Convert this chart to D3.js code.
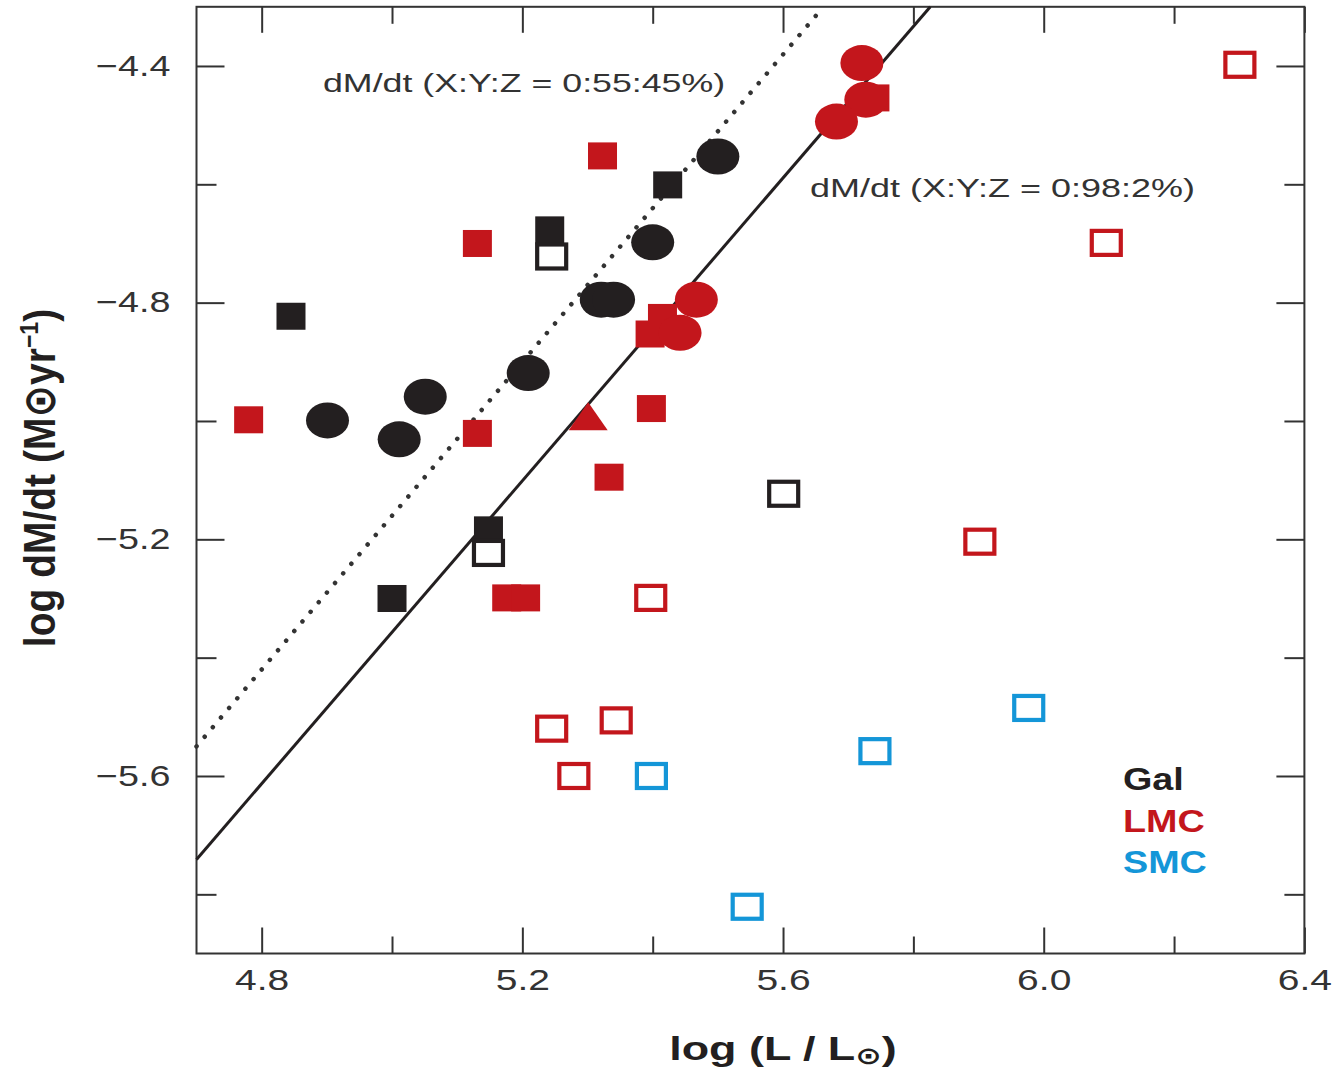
<!DOCTYPE html>
<html>
<head>
<meta charset="utf-8">
<script src="https://cdn.jsdelivr.net/npm/d3@7"></script>
<style>
  body { margin: 0; background: #fff; }
  text { font-family: "Liberation Sans", Arial, Helvetica, sans-serif; }
</style>
</head>
<body>
<svg id="chart" width="1337" height="1073"></svg>
<script>
// values: [log L/Lsun, log dM/dt]
var galCircles = [[5.500, -4.553], [5.400, -4.698], [5.321, -4.795], [5.340, -4.795],
  [5.209, -4.919], [5.051, -4.959], [4.901, -4.999], [5.011, -5.031]];
var galSquares = [[5.423, -4.601], [5.242, -4.677], [4.845, -4.823], [5.148, -5.184], [5.000, -5.300]];
var galOpen = [[5.245, -4.722], [5.148, -5.223], [5.601, -5.123]];

var lmcCircles = [[5.721, -4.395], [5.727, -4.457], [5.682, -4.494], [5.467, -4.795], [5.442, -4.851]];
var lmcSquares = [[5.741, -4.454], [5.323, -4.552], [5.131, -4.700], [5.415, -4.825], [5.396, -4.853],
  [5.398, -4.979], [4.780, -4.998], [5.131, -5.021], [5.333, -5.095], [5.176, -5.299], [5.205, -5.299]];
var lmcTriangles = [[5.301, -4.992]];
var lmcOpen = [[6.301, -4.398], [6.096, -4.699], [5.902, -5.204], [5.397, -5.299],
  [5.245, -5.520], [5.344, -5.506], [5.279, -5.600]];

var smcOpen = [[5.398, -5.600], [5.741, -5.558], [5.977, -5.485], [5.545, -5.821]];

// mass-loss relations (end points in data units)
var solidLine = [[4.7, -5.741], [5.826, -4.3]];
var dottedLine = [[4.7, -5.55], [5.662, -4.3]];

var xMajor = [4.8, 5.2, 5.6, 6.0, 6.4];
var xMinor = [5.0, 5.4, 5.8, 6.2];
var yMajor = [-4.4, -4.8, -5.2, -5.6];
var yMinor = [-4.6, -5.0, -5.4, -5.8];

var legendLabels = ["Gal", "LMC", "SMC"];

var BLACK = "#231f20", RED = "#c3161c", BLUE = "#1496d8", GREY = "#333";
var legendColors = [BLACK, RED, BLUE];

var svg = d3.select("#chart");
svg.append("rect").attr("width", 1337).attr("height", 1073).attr("fill", "#fff");

var plotL = 196.5, plotR = 1304.4, plotT = 6.8, plotB = 953.5;
var x = d3.scaleLinear().domain([4.7, 6.4]).range([plotL, plotR]);
var y = d3.scaleLinear().domain([-4.3, -5.9]).range([plotT, plotB]);

var fmt = d3.format(".1f");

// axes: ticks point inward on all four sides
function styleAxis(g) {
  g.select(".domain").remove();
  g.selectAll(".tick line").attr("stroke", GREY).attr("stroke-width", 2);
}

svg.append("g").attr("transform", "translate(0," + plotB + ")")
  .call(d3.axisBottom(x).tickValues(xMajor).tickSize(-26).tickPadding(15).tickFormat(fmt))
  .call(styleAxis)
  .selectAll("text").attr("font-size", 30).attr("fill", GREY).attr("transform", "scale(1.3,1)");
svg.append("g").attr("transform", "translate(0," + plotB + ")")
  .call(d3.axisBottom(x).tickValues(xMinor).tickSize(-17).tickFormat(""))
  .call(styleAxis);
svg.append("g").attr("transform", "translate(0," + plotT + ")")
  .call(d3.axisTop(x).tickValues(xMajor).tickSize(-26).tickFormat(""))
  .call(styleAxis);
svg.append("g").attr("transform", "translate(0," + plotT + ")")
  .call(d3.axisTop(x).tickValues(xMinor).tickSize(-17).tickFormat(""))
  .call(styleAxis);

svg.append("g").attr("transform", "translate(" + plotL + ",0)")
  .call(d3.axisLeft(y).tickValues(yMajor).tickSize(-28).tickPadding(20).tickFormat(fmt))
  .call(styleAxis)
  .selectAll("text").attr("font-size", 29).attr("fill", GREY).attr("transform", "scale(1.3,1)");
svg.append("g").attr("transform", "translate(" + plotL + ",0)")
  .call(d3.axisLeft(y).tickValues(yMinor).tickSize(-20).tickFormat(""))
  .call(styleAxis);
svg.append("g").attr("transform", "translate(" + plotR + ",0)")
  .call(d3.axisRight(y).tickValues(yMajor).tickSize(-28).tickFormat(""))
  .call(styleAxis);
svg.append("g").attr("transform", "translate(" + plotR + ",0)")
  .call(d3.axisRight(y).tickValues(yMinor).tickSize(-20).tickFormat(""))
  .call(styleAxis);

// frame
svg.append("rect")
  .attr("x", plotL).attr("y", plotT)
  .attr("width", plotR - plotL).attr("height", plotB - plotT)
  .attr("fill", "none").attr("stroke", GREY).attr("stroke-width", 2);

// relations
var line = d3.line().x(function(d) { return x(d[0]); }).y(function(d) { return y(d[1]); });
svg.append("path").datum(solidLine).attr("d", line)
  .attr("fill", "none").attr("stroke", BLACK).attr("stroke-width", 3);
svg.append("path").datum(dottedLine).attr("d", line)
  .attr("fill", "none").attr("stroke", "#333").attr("stroke-width", 4.5)
  .attr("stroke-linecap", "round").attr("stroke-dasharray", "0.1 12.5");

// markers
var marks = svg.append("g");

function squares(data, color) {
  marks.selectAll(null).data(data).enter().append("rect")
    .attr("x", function(d) { return x(d[0]) - 14.5; })
    .attr("y", function(d) { return y(d[1]) - 13.5; })
    .attr("width", 29).attr("height", 27)
    .attr("fill", color);
}
function openSquares(data, color) {
  marks.selectAll(null).data(data).enter().append("rect")
    .attr("x", function(d) { return x(d[0]) - 14.5; })
    .attr("y", function(d) { return y(d[1]) - 12; })
    .attr("width", 29).attr("height", 24)
    .attr("fill", "#fff").attr("stroke", color).attr("stroke-width", 4.2);
}
function ellipses(data, color) {
  marks.selectAll(null).data(data).enter().append("ellipse")
    .attr("cx", function(d) { return x(d[0]); })
    .attr("cy", function(d) { return y(d[1]); })
    .attr("rx", 21.5).attr("ry", 18)
    .attr("fill", color);
}
function triangles(data, color) {
  marks.selectAll(null).data(data).enter().append("path")
    .attr("d", function(d) {
      var cx = x(d[0]), cy = y(d[1]);
      return "M" + cx + "," + (cy - 14) + "L" + (cx + 19.5) + "," + (cy + 14) + "L" + (cx - 19.5) + "," + (cy + 14) + "Z";
    })
    .attr("fill", color);
}

squares(galSquares, BLACK);
ellipses(galCircles, BLACK);
openSquares(galOpen, BLACK);
squares(lmcSquares, RED);
ellipses(lmcCircles, RED);
triangles(lmcTriangles, RED);
openSquares(lmcOpen, RED);
openSquares(smcOpen, BLUE);

// annotations
function stretched(px, py, sx, size, weight, color) {
  return svg.append("g").attr("transform", "translate(" + px + "," + py + ") scale(" + sx + ",1)")
    .append("text").attr("font-size", size).attr("font-weight", weight).attr("fill", color);
}
stretched(323, 92, 1.43, 25, "normal", GREY).text("dM/dt (X:Y:Z = 0:55:45%)");
stretched(810, 197, 1.44, 25, "normal", GREY).text("dM/dt (X:Y:Z = 0:98:2%)");

// legend
legendLabels.forEach(function(lab, i) {
  stretched(1123, 790 + i * 41.5, 1.18, 32, "bold", legendColors[i]).text(lab);
});

// axis titles
var xt = stretched(783, 1060, 1.32, 34, "bold", BLACK).attr("text-anchor", "middle");
xt.append("tspan").text("log (L / L");
xt.append("tspan").attr("font-family", "DejaVu Sans").attr("font-size", 24).attr("dy", 4).text("\u2299");
xt.append("tspan").attr("dy", -4).text(")");

var yt = svg.append("g").attr("transform", "translate(55,478) rotate(-90) scale(1,1.15)")
  .append("text")
  .attr("text-anchor", "middle").attr("font-size", 39).attr("font-weight", "bold").attr("fill", BLACK);
yt.append("tspan").text("log dM/dt (M");
yt.append("tspan").attr("font-family", "DejaVu Sans").text("\u2299");
yt.append("tspan").text("yr");
yt.append("tspan").attr("font-size", 23).attr("dy", -15).text("\u22121");
yt.append("tspan").attr("dy", 15).text(")");
</script>
</body>
</html>
